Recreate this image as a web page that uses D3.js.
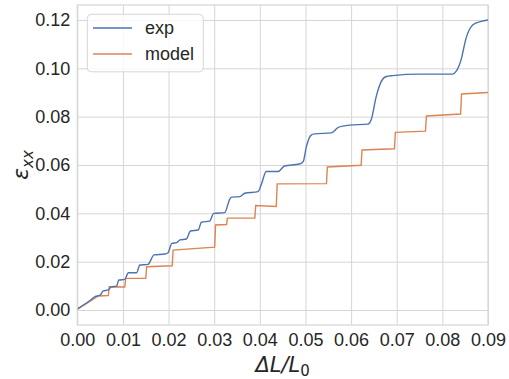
<!DOCTYPE html>
<html>
<head>
<meta charset="utf-8">
<script src="https://cdn.jsdelivr.net/npm/d3@7/dist/d3.min.js"></script>
<style>
  body { margin: 0; background: #fff; }
  svg { display: block; }
  text { font-family: "Liberation Sans", Arial, sans-serif; fill: #262626; }
</style>
</head>
<body>
<svg id="chart" width="509" height="379"></svg>
<script>
// ---- data ----
const expX = [0.0002, 0.0024, 0.0039, 0.0050, 0.0057, 0.0068, 0.0074, 0.0086, 0.0091, 0.0104,
  0.0112, 0.0130, 0.0137, 0.0155, 0.0168, 0.0192, 0.0199, 0.0207, 0.0218, 0.0225,
  0.0239, 0.0248, 0.0265, 0.0272, 0.0290, 0.0299, 0.0323, 0.0334, 0.0338, 0.0356,
  0.0367, 0.0396, 0.0403, 0.0414, 0.0440, 0.0454, 0.0487, 0.0495, 0.0502, 0.0513,
  0.0520, 0.0557, 0.0564, 0.0571, 0.0597, 0.0637, 0.0644, 0.0655, 0.0666, 0.0677,
  0.0691, 0.0750, 0.0823, 0.0830, 0.0841, 0.0852, 0.0867, 0.0885, 0.0900];
const expY = [0.0007, 0.0034, 0.0055, 0.0062, 0.0079, 0.0083, 0.0096, 0.0099, 0.0124, 0.0127,
  0.0154, 0.0154, 0.0186, 0.0189, 0.0228, 0.0232, 0.0237, 0.0276, 0.0279, 0.0290,
  0.0294, 0.0327, 0.0331, 0.0363, 0.0368, 0.0400, 0.0403, 0.0458, 0.0467, 0.0469,
  0.0483, 0.0490, 0.0518, 0.0573, 0.0573, 0.0596, 0.0604, 0.0614, 0.0676, 0.0725,
  0.0729, 0.0733, 0.0742, 0.0755, 0.0765, 0.0769, 0.0787, 0.0883, 0.0945, 0.0966,
  0.0970, 0.0976, 0.0976, 0.0987, 0.1035, 0.1125, 0.1180, 0.1194, 0.1200];

const modelX = [0.0000, 0.0046, 0.0068, 0.0070, 0.0104, 0.0106, 0.0150, 0.0152, 0.0208, 0.0210,
  0.0301, 0.0303, 0.0327, 0.0329, 0.0389, 0.0391, 0.0436, 0.0438, 0.0546, 0.0548,
  0.0622, 0.0624, 0.0695, 0.0697, 0.0763, 0.0765, 0.0840, 0.0842, 0.0900];
const modelY = [0.0003, 0.0058, 0.0060, 0.0096, 0.0095, 0.0131, 0.0131, 0.0179, 0.0183, 0.0248,
  0.0260, 0.0352, 0.0354, 0.0380, 0.0381, 0.0432, 0.0428, 0.0522, 0.0523, 0.0592,
  0.0599, 0.0662, 0.0667, 0.0735, 0.0740, 0.0803, 0.0811, 0.0894, 0.0900];

const xTicks = [0, 0.01, 0.02, 0.03, 0.04, 0.05, 0.06, 0.07, 0.08, 0.09];
const yTicks = [0, 0.02, 0.04, 0.06, 0.08, 0.10, 0.12];
const seriesNames = ["exp", "model"];
const seriesColors = ["#4c72b0", "#dd8452"];

// ---- layout ----
const svg = d3.select("#chart");
const L = 77.3, R = 488, T = 5, B = 325;
const x = d3.scaleLinear().domain([0, 0.09]).range([L, R]);
const y = d3.scaleLinear().domain([-0.0062, 0.1262]).range([B, T]);
const gridColor = "#d6d6d6";

// grid
const xAxis = d3.axisBottom(x).tickValues(xTicks).tickSize(-(B - T)).tickPadding(8)
  .tickFormat(d3.format(".2f"));
const yAxis = d3.axisLeft(y).tickValues(yTicks).tickSize(-(R - L)).tickPadding(7)
  .tickFormat(d3.format(".2f"));

const gx = svg.append("g").attr("transform", `translate(0,${B})`).call(xAxis);
const gy = svg.append("g").attr("transform", `translate(${L},0)`).call(yAxis);
[gx, gy].forEach(g => {
  g.select(".domain").remove();
  g.selectAll(".tick line").attr("stroke", gridColor).attr("stroke-width", 1);
  g.selectAll(".tick text").style("font-size", "18px").style("font-family", "Liberation Sans, Arial, sans-serif").attr("fill", "#262626");
});

// frame
svg.append("rect").attr("x", L).attr("y", T).attr("width", R - L).attr("height", B - T)
  .attr("fill", "none").attr("stroke", gridColor).attr("stroke-width", 1.2);

// lines
const clip = svg.append("clipPath").attr("id", "clip").append("rect")
  .attr("x", L).attr("y", T).attr("width", R - L).attr("height", B - T);

const expData = expX.map((v, i) => [v, expY[i]]);
const modelData = modelX.map((v, i) => [v, modelY[i]]);

const lineSmooth = d3.line().x(d => x(d[0])).y(d => y(d[1])).curve(d3.curveMonotoneX);
const lineStep = d3.line().x(d => x(d[0])).y(d => y(d[1]));

svg.append("path").datum(modelData).attr("d", lineStep)
  .attr("fill", "none").attr("stroke", seriesColors[1]).attr("stroke-width", 1.4)
  .attr("clip-path", "url(#clip)");
svg.append("path").datum(expData).attr("d", lineSmooth)
  .attr("fill", "none").attr("stroke", seriesColors[0]).attr("stroke-width", 1.4)
  .attr("clip-path", "url(#clip)");

// legend
const lg = svg.append("g");
lg.append("rect").attr("x", 87.3).attr("y", 14.3).attr("width", 116).attr("height", 57.5)
  .attr("rx", 4).attr("fill", "#fff").attr("fill-opacity", 0.8)
  .attr("stroke", "#d6d6d6").attr("stroke-width", 1);
seriesNames.forEach((name, i) => {
  const yy = 28 + i * 26;
  lg.append("line").attr("x1", 93).attr("x2", 132).attr("y1", yy).attr("y2", yy)
    .attr("stroke", seriesColors[i]).attr("stroke-width", 1.4);
  lg.append("text").attr("x", 145).attr("y", yy + 6).style("font-size", "18px").text(name);
});

// axis labels
const xl = svg.append("text").attr("x", (L + R) / 2).attr("y", 372)
  .attr("text-anchor", "middle").style("font-size", "21px").style("font-style", "italic")
  .style("font-family", "DejaVu Sans, sans-serif");
xl.append("tspan").text("ΔL/L");
xl.append("tspan").attr("dy", 4).style("font-size", "15px").style("font-style", "normal").text("0");

const yl = svg.append("text").attr("transform", `translate(28,${(T + B) / 2}) rotate(-90)`)
  .attr("text-anchor", "middle").style("font-size", "22px").style("font-style", "italic")
  .style("font-family", "DejaVu Sans, sans-serif");
yl.append("tspan").text("ε");
yl.append("tspan").attr("dy", 5).style("font-size", "15px").text("xx");
</script>
</body>
</html>
